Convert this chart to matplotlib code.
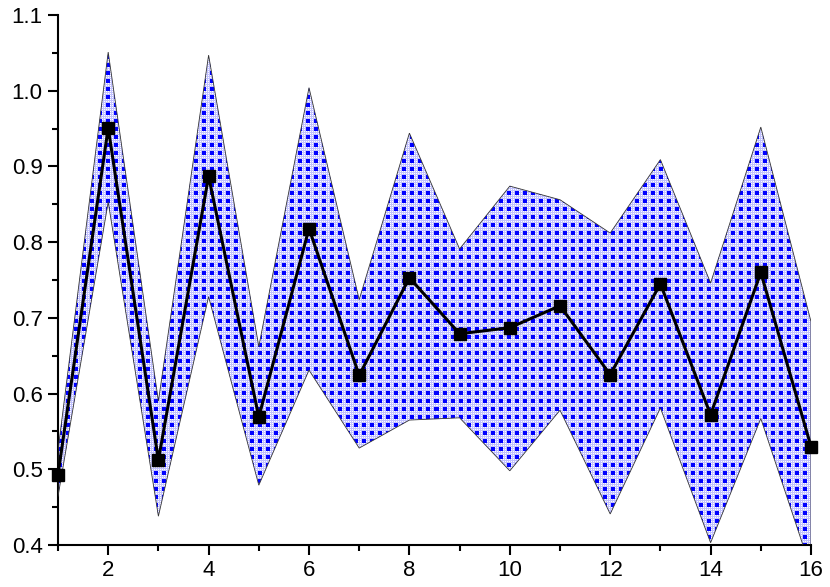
import numpy as np
import matplotlib
matplotlib.use('Agg')
from matplotlib import pyplot as plt
from matplotlib.patches import Polygon

x = np.arange(1, 17)
mean = [0.493, 0.951, 0.512, 0.887, 0.569, 0.818, 0.624, 0.753,
        0.679, 0.687, 0.716, 0.625, 0.745, 0.572, 0.760, 0.530]
upper = [0.525, 1.051, 0.590, 1.047, 0.662, 1.004, 0.724, 0.944,
         0.791, 0.874, 0.856, 0.812, 0.909, 0.746, 0.952, 0.695]
lower = [0.464, 0.853, 0.438, 0.728, 0.479, 0.631, 0.528, 0.565,
         0.568, 0.498, 0.578, 0.441, 0.581, 0.403, 0.567, 0.368]

plt.rcParams['font.family'] = ['Liberation Sans', 'DejaVu Sans']

fig = plt.figure(figsize=(8.3, 5.87), dpi=100)
ax = fig.add_axes([58 / 830, 42 / 587, 753 / 830, 530 / 587])

# pattern fill: blue squares with a light blue lattice, 8 px repeat
cell = np.ones((8, 8, 3))
light = np.array([0.76, 0.76, 1.0])
for i in range(8):
    for j in range(8):
        if i < 4 and j < 4:
            cell[i, j] = [0, 0, 1]
        elif (i % 4) in (1, 3) or (j % 4) in (1, 3):
            cell[i, j] = light
tex = np.tile(cell, (530 // 8 + 2, 753 // 8 + 2, 1))[:530, :753]

verts = np.column_stack([np.concatenate([x, x[::-1]]),
                         np.concatenate([upper, lower[::-1]])])
band = Polygon(verts, closed=True, facecolor='none', edgecolor='#333333',
               linewidth=0.6, zorder=3)
ax.add_patch(band)
im = ax.imshow(tex, extent=(1, 16, 0.4, 1.1), aspect='auto',
               interpolation='nearest', zorder=2)
im.set_clip_path(band)

ax.plot(x, mean, color='black', linewidth=2.2, marker='s', markersize=8,
        zorder=4, clip_on=False)

ax.set_xlim(1, 16)
ax.set_ylim(0.4, 1.1)
ax.set_xticks(range(2, 17, 2))
ax.set_xticks(range(1, 17, 2), minor=True)
ax.set_yticks(np.arange(0.4, 1.11, 0.1))
ax.set_yticks(np.arange(0.45, 1.1, 0.1), minor=True)
ax.set_yticklabels(['0.4', '0.5', '0.6', '0.7', '0.8', '0.9', '1.0', '1.1'])

for s in ['top', 'right']:
    ax.spines[s].set_visible(False)
for s in ['left', 'bottom']:
    ax.spines[s].set_linewidth(1.5)
ax.tick_params(which='major', direction='out', length=7, width=1.5,
               labelsize=16, pad=4)
ax.tick_params(which='minor', direction='out', length=4, width=1.5)

plt.savefig('out.png', dpi=100)
